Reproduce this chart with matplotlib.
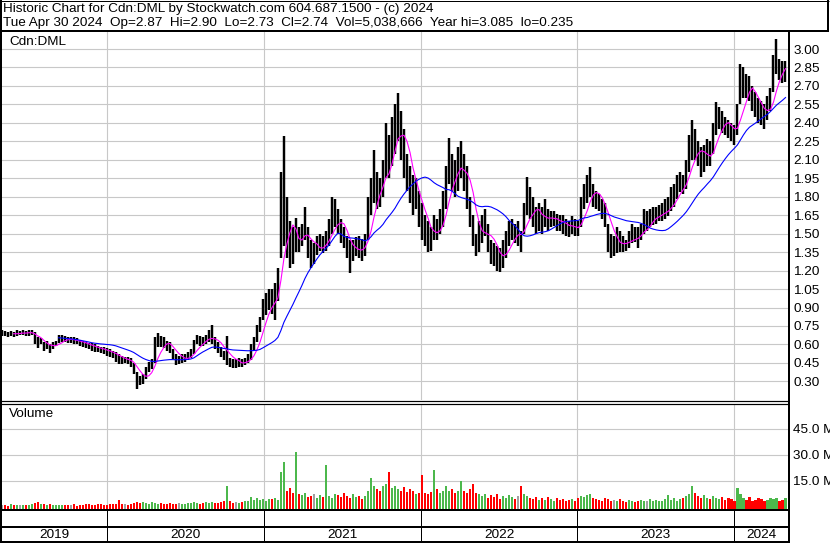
import numpy as np
import pandas as pd
import matplotlib
matplotlib.use("Agg")
import matplotlib.pyplot as plt

# weekly bars (Cdn:DML), May 2019 - Apr 30 2024
dates = pd.date_range(end="2024-04-30", periods=262, freq="7D")

hi = [0.72, 0.71, 0.70, 0.71, 0.70, 0.72, 0.71, 0.72, 0.71, 0.72,
      0.72, 0.70, 0.66, 0.65, 0.62, 0.63, 0.60, 0.62, 0.63, 0.68,
      0.68, 0.67, 0.66, 0.66, 0.66, 0.65, 0.64, 0.63, 0.62, 0.61,
      0.61, 0.60, 0.59, 0.58, 0.58, 0.57, 0.56, 0.55, 0.54, 0.52,
      0.51, 0.50, 0.50, 0.49, 0.45, 0.38, 0.34, 0.36, 0.42, 0.46,
      0.48, 0.66, 0.69, 0.67, 0.66, 0.63, 0.62, 0.56, 0.52, 0.51,
      0.52, 0.52, 0.54, 0.56, 0.64, 0.68, 0.67, 0.66, 0.68, 0.72,
      0.76, 0.66, 0.62, 0.58, 0.55, 0.67, 0.49, 0.48, 0.48, 0.49,
      0.48, 0.49, 0.52, 0.60, 0.66, 0.76, 0.82, 0.97, 1.02, 1.05,
      1.05, 1.10, 1.22, 2.00, 2.29, 1.80, 1.60, 1.55, 1.63, 1.55,
      1.58, 1.72, 1.55, 1.45, 1.42, 1.48, 1.50, 1.48, 1.52, 1.62,
      1.80, 1.78, 1.70, 1.62, 1.55, 1.48, 1.45, 1.45, 1.47, 1.48,
      1.46, 1.50, 1.80, 1.95, 2.18, 2.00, 1.95, 2.10, 2.40, 2.30,
      2.45, 2.55, 2.64, 2.50, 2.35, 2.15, 2.05, 1.98, 1.95, 1.85,
      1.75, 1.65, 1.60, 1.55, 1.65, 1.62, 1.70, 1.85, 2.05, 2.28,
      2.15, 2.10, 2.20, 2.25, 2.15, 2.05, 1.80, 1.65, 1.50, 1.60,
      1.65, 1.70, 1.58, 1.45, 1.42, 1.40, 1.38, 1.45, 1.52, 1.60,
      1.62, 1.58, 1.60, 1.52, 1.75, 1.96, 1.88, 1.80, 1.72, 1.75,
      1.72, 1.78, 1.70, 1.68, 1.68, 1.66, 1.65, 1.65, 1.62, 1.60,
      1.64, 1.62, 1.60, 1.80, 1.90, 1.98, 2.04, 1.90, 1.85, 1.82,
      1.78, 1.75, 1.58, 1.50, 1.48, 1.55, 1.52, 1.48, 1.45, 1.52,
      1.58, 1.55, 1.55, 1.58, 1.70, 1.68, 1.70, 1.72, 1.72, 1.73,
      1.75, 1.78, 1.80, 1.88, 1.90, 1.98, 2.00, 1.98, 2.10, 2.30,
      2.42, 2.35, 2.25, 2.20, 2.22, 2.27, 2.25, 2.40, 2.57, 2.53,
      2.50, 2.45, 2.42, 2.40, 2.38, 2.55, 2.88, 2.85, 2.80, 2.78,
      2.70, 2.65, 2.60, 2.58, 2.55, 2.62, 2.68, 2.95, 3.085, 2.92, 2.90, 2.90]

lo = [0.67, 0.67, 0.66, 0.67, 0.66, 0.67, 0.68, 0.68, 0.67, 0.67,
      0.68, 0.60, 0.57, 0.60, 0.55, 0.56, 0.53, 0.56, 0.59, 0.61,
      0.62, 0.62, 0.61, 0.61, 0.60, 0.60, 0.59, 0.58, 0.57, 0.56,
      0.55, 0.54, 0.54, 0.53, 0.52, 0.51, 0.50, 0.49, 0.46, 0.44,
      0.44, 0.45, 0.44, 0.42, 0.36, 0.235, 0.27, 0.28, 0.32, 0.38,
      0.40, 0.45, 0.58, 0.58, 0.57, 0.55, 0.53, 0.48, 0.43, 0.44,
      0.45, 0.46, 0.47, 0.49, 0.52, 0.60, 0.59, 0.59, 0.60, 0.62,
      0.60, 0.56, 0.53, 0.50, 0.47, 0.43, 0.42, 0.41, 0.41, 0.42,
      0.42, 0.43, 0.45, 0.47, 0.55, 0.62, 0.70, 0.80, 0.84, 0.88,
      0.85, 0.80, 0.95, 1.30, 1.40, 1.30, 1.22, 1.25, 1.35, 1.35,
      1.40, 1.45, 1.30, 1.22, 1.25, 1.33, 1.36, 1.34, 1.36, 1.40,
      1.50, 1.55, 1.50, 1.42, 1.38, 1.30, 1.18, 1.28, 1.32, 1.30,
      1.28, 1.32, 1.45, 1.65, 1.75, 1.70, 1.72, 1.80, 1.95, 1.95,
      2.05, 2.15, 2.25, 2.10, 1.95, 1.85, 1.75, 1.65, 1.70, 1.55,
      1.45, 1.40, 1.35, 1.36, 1.45, 1.45, 1.50, 1.55, 1.70, 1.90,
      1.85, 1.80, 1.85, 1.95, 1.85, 1.70, 1.55, 1.40, 1.32, 1.35,
      1.42, 1.48, 1.35, 1.25, 1.24, 1.20, 1.19, 1.22, 1.30, 1.40,
      1.45, 1.42, 1.40, 1.35, 1.50, 1.65, 1.62, 1.55, 1.50, 1.52,
      1.50, 1.55, 1.52, 1.55, 1.56, 1.52, 1.52, 1.50, 1.48, 1.47,
      1.50, 1.48, 1.48, 1.55, 1.70, 1.75, 1.80, 1.72, 1.70, 1.68,
      1.62, 1.55, 1.35, 1.30, 1.32, 1.34, 1.35, 1.35, 1.36, 1.38,
      1.42, 1.43, 1.38, 1.45, 1.50, 1.52, 1.55, 1.57, 1.58, 1.60,
      1.60, 1.62, 1.64, 1.68, 1.72, 1.78, 1.84, 1.82, 1.86, 2.00,
      2.10, 2.10, 2.05, 1.96, 2.00, 2.05, 2.05, 2.15, 2.30, 2.35,
      2.32, 2.30, 2.28, 2.25, 2.22, 2.30, 2.55, 2.60, 2.60, 2.58,
      2.50, 2.45, 2.40, 2.38, 2.35, 2.42, 2.50, 2.65, 2.80, 2.75, 2.72, 2.73]

# daily volume, millions of shares
vol = [0.8, 1.0, 0.6, 1.2, 0.7, 0.9, 1.1, 0.8, 1.0, 0.9,
       1.3, 1.8, 2.9, 1.2, 1.5, 1.0, 1.4, 0.9, 1.1, 0.8,
       0.9, 0.7, 1.0, 0.8, 1.2, 0.6, 0.9, 1.0, 1.3, 1.5,
       0.8, 1.0, 1.2, 1.4, 1.0, 1.1, 1.5, 1.2, 1.6, 4.0,
       1.3, 1.5, 1.0, 1.4, 2.0, 2.6, 2.2, 2.5, 1.8, 1.6,
       2.7, 2.3, 1.4, 1.8, 1.5, 1.2, 2.0, 1.6, 1.3, 1.9,
       1.4, 1.6, 1.8, 2.2, 2.6, 1.8, 1.6, 2.0, 2.5, 2.2,
       2.5, 2.0, 1.8, 2.4, 3.0, 12.0, 3.5, 2.2, 2.6, 2.0,
       2.4, 3.0, 3.2, 5.8, 4.0, 5.0, 3.6, 4.2, 3.5, 4.5,
       4.5, 5.0, 4.0, 20.0, 26.0, 9.0, 11.0, 8.0, 31.4, 7.0,
       6.5, 8.0, 5.5, 6.0, 7.5, 5.0, 6.5, 5.5, 24.0, 6.0,
       5.0, 7.0, 6.5, 5.5, 8.0, 6.0, 5.0, 7.0, 5.5, 6.0,
       4.5, 6.0, 9.0, 16.6, 12.0, 10.0, 9.0, 12.0, 13.0, 19.9,
       11.0, 12.0, 10.0, 9.0, 11.5, 8.5, 10.0, 9.0, 7.5, 8.0,
       18.0, 8.0, 7.0, 8.5, 21.0, 10.0, 8.0, 9.0, 12.0, 9.0,
       10.0, 8.0, 9.0, 15.0, 9.0, 8.0, 10.0, 13.0, 8.0, 7.0,
       6.0, 7.5, 5.0, 6.5, 5.5, 7.0, 4.5, 6.0, 5.0, 6.5,
       5.5, 4.5, 6.0, 12.0, 7.0, 6.0, 5.0, 4.5, 5.5, 4.0,
       5.0, 4.0, 5.5, 4.5, 3.5, 5.0, 4.0, 4.5, 3.5, 4.0,
       4.5, 3.5, 5.0, 6.0, 5.5, 6.5, 7.0, 5.0, 4.5, 4.0,
       3.5, 5.0, 4.5, 3.0, 4.0, 3.5, 4.5, 3.0, 2.5, 4.0,
       3.0, 2.5, 3.5, 4.0, 3.0, 3.5, 4.5, 3.0, 4.0, 3.5,
       3.0, 4.5, 6.7, 4.0, 5.0, 3.5, 4.5, 5.0, 6.0, 7.0,
       12.0, 8.0, 6.0, 5.0, 6.5, 5.0, 4.5, 6.0, 5.0, 4.5,
       5.5, 4.0, 5.0, 4.5, 3.5, 11.0, 7.0, 5.0, 4.0, 5.5,
       3.5, 4.0, 5.0, 4.5, 3.5, 4.0, 5.0, 4.5, 5.0, 3.5, 4.0, 5.0]

price_ticks = [0.30, 0.45, 0.60, 0.75, 0.90, 1.05, 1.20, 1.35, 1.50, 1.65,
               1.80, 1.95, 2.10, 2.25, 2.40, 2.55, 2.70, 2.85, 3.00]
vol_ticks = [15, 30, 45]
years = [2019, 2020, 2021, 2022, 2023, 2024]

header1 = "Historic Chart for Cdn:DML by Stockwatch.com 604.687.1500 - (c) 2024"
header2 = ("Tue Apr 30 2024  Op=2.87  Hi=2.90  Lo=2.73  Cl=2.74  Vol=5,038,666  "
           "Year hi=3.085  lo=0.235")

W, H = 830, 543
GRID = "#c8c8c8"
FS = 9.7
plt.rcParams["font.family"] = ["Liberation Sans", "DejaVu Sans"]
plt.rcParams["font.size"] = FS


def box(x0, y0, x1, y1):
    """pixel box (top-left origin) -> figure rect"""
    return [x0 / W, 1 - y1 / H, (x1 - x0) / W, (y1 - y0) / H]


hi = np.array(hi)
lo = np.array(lo)
vol = np.array(vol)
mid = pd.Series((hi + lo) / 2)
ma_fast = mid.rolling(5).mean()
ma_slow = mid.rolling(20).mean()
chg = mid.diff().fillna(0).to_numpy()
vcol = np.where(chg > 0, "#4cb84c", np.where(chg < 0, "#ff0000", "#a0a0a0"))

xlim = (pd.Timestamp("2019-05-01"), pd.Timestamp("2024-05-07"))
year_starts = [pd.Timestamp(f"{y}-01-01") for y in years[1:]]

fig = plt.figure(figsize=(W / 100, H / 100), dpi=100)

# price panel
ax = fig.add_axes(box(2, 32, 788.5, 400))
ax.vlines(dates, lo, hi, color="black", lw=1.75, zorder=3)
ax.plot(dates, ma_fast, color="#ff00ff", lw=0.8, zorder=4)
ax.plot(dates, ma_slow, color="#0000ff", lw=0.8, zorder=4)
ax.set_xlim(*xlim)
ax.set_ylim(3.00 - (400 - 49) / 123.1, 3.00 + (49 - 32) / 123.1)
ax.set_yticks(price_ticks)
ax.set_yticklabels([f"{t:.2f}" for t in price_ticks])
ax.set_xticks(year_starts)
ax.set_xticklabels([])

# volume panel
axv = fig.add_axes(box(2, 404, 788.5, 510))
v0, v1 = -2.0, 59.4
axv.bar(dates, vol - v0, bottom=v0, width=5.0, color=vcol, zorder=3)
axv.set_xlim(*xlim)
axv.set_ylim(v0, v1)
axv.set_yticks(vol_ticks)
axv.set_yticklabels([f"{t:.1f} M" for t in vol_ticks])
axv.set_xticks(year_starts)
axv.set_xticklabels([])

for a in (ax, axv):
    a.yaxis.tick_right()
    a.tick_params(axis="both", length=0, pad=3.5, labelsize=FS)
    a.grid(True, color=GRID, lw=0.8, zorder=0)
    for s in a.spines.values():
        s.set_visible(False)

# frame, header and year strip in pixel coordinates
ov = fig.add_axes([0, 0, 1, 1], zorder=10)
ov.set_xlim(0, W)
ov.set_ylim(H, 0)
ov.axis("off")
ov.patch.set_alpha(0)


def hline(y, x0, x1, px):
    ov.plot([x0, x1], [y, y], color="black", lw=px * 0.72, solid_capstyle="butt")


def vline(x, y0, y1, px):
    ov.plot([x, x], [y0, y1], color="black", lw=px * 0.72, solid_capstyle="butt")


vline(1, 0, H, 2)
hline(0.5, 0, 829, 1)
vline(828, 0, 32, 2)
hline(31, 0, 829, 2)
vline(788.5, 31, H, 2)
hline(400.5, 0, 788.5, 1.2)
hline(403.5, 0, 788.5, 1.2)
hline(510, 0, 788.5, 2)
hline(527, 0, 788.5, 2)
hline(542, 0, 788.5, 2)

fig.canvas.draw()
xpix = [ax.transData.transform((matplotlib.dates.date2num(d), 0))[0] for d in year_starts]
for xp in xpix:
    vline(xp, 510, 542, 1)
edges = [2] + xpix + [788.5]
for y, a, b in zip(years, edges[:-1], edges[1:]):
    ov.text((a + b) / 2, 535, str(y), ha="center", va="center", fontsize=FS)

ov.text(3, 9, header1, ha="left", va="center", fontsize=FS)
ov.text(3, 23, header2, ha="left", va="center", fontsize=FS)
ov.text(9, 42, "Cdn:DML", ha="left", va="center", fontsize=FS)
ov.text(9, 414, "Volume", ha="left", va="center", fontsize=FS)

fig.savefig("out.png", dpi=100)
